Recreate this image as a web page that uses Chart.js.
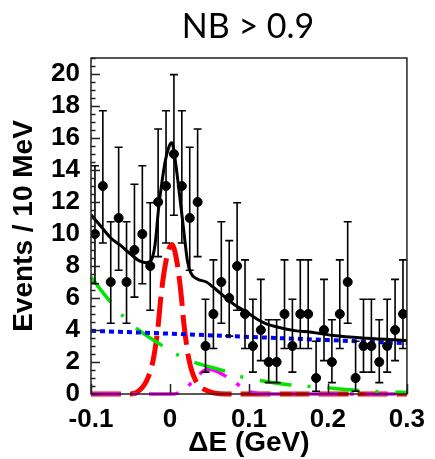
<!DOCTYPE html>
<html>
<head>
<meta charset="utf-8">
<script src="https://cdn.jsdelivr.net/npm/chart.js@4.4.0/dist/chart.umd.min.js"></script>
<style>
  html, body { margin: 0; padding: 0; background: #fff; }
  #wrap { width: 435px; height: 459px; }
</style>
</head>
<body>
<div id="wrap"><canvas id="deChart" width="435" height="459"></canvas></div>
<script>
// bin centres (10 MeV bins) and event counts
const binCenters = [-0.095, -0.085, -0.075, -0.065, -0.055, -0.045, -0.035, -0.025, -0.015, -0.005,
                    0.005, 0.015, 0.025, 0.035, 0.045, 0.055, 0.065, 0.075, 0.085, 0.095,
                    0.105, 0.115, 0.125, 0.135, 0.145, 0.155, 0.165, 0.175, 0.185, 0.195,
                    0.205, 0.215, 0.225, 0.235, 0.245, 0.255, 0.265, 0.275, 0.285, 0.295];
const counts = [10, 13, 7, 11, 7, 9, 10, 8, 12, 13,
                15, 13, 11, 12, 3, 5, 7, 6, 8, 5,
                3, 4, 2, 2, 5, 3, 5, 5, 1, 4,
                2, 5, 7, 1, 3, 3, 2, 3, 4, 5];

// poisson 68% intervals, indexed by count
const poissonLow  = [0, 0.173, 0.708, 1.367, 2.086, 2.840, 3.620, 4.419, 5.232, 6.057, 6.891, 7.734, 8.585, 9.441, 10.30, 11.17];
const poissonHigh = [1.841, 3.300, 4.638, 5.918, 7.163, 8.382, 9.584, 10.77, 11.95, 13.11, 14.27, 15.42, 16.56, 17.70, 18.83, 19.96];

// fit components
const totalX = [-0.1, -0.087, -0.075, -0.063, -0.05, -0.038, -0.03, -0.024, -0.019, -0.014, -0.01, -0.0058, 0.0, 0.0025, 0.0058, 0.012, 0.017, 0.022, 0.026, 0.034, 0.046, 0.059, 0.072, 0.084, 0.096, 0.108, 0.121, 0.137, 0.158, 0.179, 0.207, 0.249, 0.3];
const totalY = [11.2, 10.45, 9.75, 9.3, 8.75, 8.3, 8.2, 8.35, 9.3, 11.8, 13.3, 14.6, 15.6, 15.7, 14.9, 12.5, 10.4, 8.35, 7.6, 7.2, 7.0, 6.5, 5.95, 5.5, 5.15, 4.75, 4.4, 4.17, 3.96, 3.86, 3.65, 3.48, 3.34];

const signalX = [-0.1, -0.05, -0.042, -0.0296, -0.0214, -0.0152, -0.0111, -0.0049, 0.0025, 0.0099, 0.014, 0.0181, 0.0243, 0.0325, 0.0469, 0.07, 0.3];
const signalY = [0, 0, 0.1, 0.83, 2.09, 4.17, 6.26, 8.35, 9.35, 7.93, 6.26, 4.17, 2.09, 0.83, 0.2, 0, 0];

const peakingX = [-0.1, 0.005, 0.022, 0.0325, 0.0428, 0.049, 0.0552, 0.0675, 0.0799, 0.0922, 0.1046, 0.121, 0.3];
const peakingY = [0, 0, 0.45, 1.0, 1.45, 1.55, 1.5, 1.2, 0.8, 0.4, 0.1, 0, 0];

const bbX = [-0.1, -0.0745, -0.059, -0.0428, -0.0086, 0.0099, 0.0305, 0.0675, 0.0889, 0.1107, 0.1498, 0.193, 0.232, 0.275, 0.3];
const bbY = [7.3, 5.7, 4.84, 4.11, 2.98, 2.44, 1.98, 1.46, 1.1, 0.87, 0.58, 0.41, 0.25, 0.12, 0.1];

const contX = [-0.1, 0.0, 0.1, 0.2, 0.3];
const contY = [3.95, 3.77, 3.57, 3.37, 3.17];

const xTicks = [-0.1, 0, 0.1, 0.2, 0.3];

function toXY(xs, ys) {
    return xs.map((x, i) => ({ x: x, y: ys[i] }));
}

const axisFont = { family: "'Liberation Sans', Arial, sans-serif", size: 26, weight: 'bold' };
const titleFont = { family: "'Liberation Sans', Arial, sans-serif", size: 28, weight: 'bold', lineHeight: 1.1 };

// error bars, frame and inner ticks (ROOT style)
const rootStyle = {
    id: 'rootStyle',
    afterDatasetsDraw(chart) {
        const ctx = chart.ctx;
        const xs = chart.scales.x, ys = chart.scales.y;
        ctx.save();
        ctx.strokeStyle = '#000';
        ctx.lineWidth = 1.6;
        binCenters.forEach((c, i) => {
            const n = counts[i];
            const px = xs.getPixelForValue(c);
            const top = ys.getPixelForValue(poissonHigh[n]);
            const bot = ys.getPixelForValue(poissonLow[n]);
            ctx.beginPath();
            ctx.moveTo(px, top); ctx.lineTo(px, bot);
            ctx.moveTo(px - 4, top); ctx.lineTo(px + 4, top);
            ctx.moveTo(px - 4, bot); ctx.lineTo(px + 4, bot);
            ctx.stroke();
        });
        ctx.restore();
    },
    afterDraw(chart) {
        const ctx = chart.ctx;
        const a = chart.chartArea;
        const xs = chart.scales.x, ys = chart.scales.y;
        ctx.save();
        ctx.strokeStyle = '#222';
        ctx.lineWidth = 1.5;
        ctx.strokeRect(a.left, a.top, a.right - a.left, a.bottom - a.top);
        ctx.beginPath();
        for (let v = 0; v <= ys.max + 1e-9; v += 0.5) {
            const py = Math.round(ys.getPixelForValue(v)) + 0.5;
            const len = (Math.abs(v % 2) < 1e-9) ? 9 : 4.5;
            ctx.moveTo(a.left, py); ctx.lineTo(a.left + len, py);
        }
        xTicks.forEach(t => {
            const px = Math.round(xs.getPixelForValue(t)) + 0.5;
            ctx.moveTo(px, a.bottom); ctx.lineTo(px, a.bottom - 10);
        });
        ctx.stroke();

        ctx.fillStyle = '#000';
        ctx.font = "34px Lato, 'Open Sans', sans-serif";
        ctx.textAlign = 'center';
        ctx.textBaseline = 'alphabetic';
        ctx.fillText('NB > 0.9', 248, 38);
        ctx.restore();
    }
};

new Chart(document.getElementById('deChart').getContext('2d'), {
    type: 'line',
    data: {
        datasets: [
            {
                type: 'scatter',
                data: toXY(binCenters, counts),
                backgroundColor: '#000',
                borderColor: '#000',
                pointRadius: 4.5,
                showLine: false,
                order: 0
            },
            {
                data: toXY(totalX, totalY),
                borderColor: '#000',
                borderWidth: 3,
                pointRadius: 0,
                cubicInterpolationMode: 'monotone',
                order: 1
            },
            {
                data: toXY(contX, contY),
                borderColor: '#0000ff',
                borderWidth: 4,
                borderDash: [5, 4],
                pointRadius: 0,
                order: 2
            },
            {
                data: toXY(bbX, bbY),
                borderColor: '#00e600',
                borderWidth: 3.5,
                borderDash: [32, 16, 3, 17],
                pointRadius: 0,
                cubicInterpolationMode: 'monotone',
                clip: 8,
                order: 3
            },
            {
                data: toXY(peakingX, peakingY),
                borderColor: '#ff00ff',
                borderWidth: 3.5,
                borderDash: [30, 12, 4, 12],
                pointRadius: 0,
                cubicInterpolationMode: 'monotone',
                clip: 8,
                order: 4
            },
            {
                data: toXY(signalX, signalY),
                borderColor: '#ff0000',
                borderWidth: 5,
                borderDash: [30, 9],
                pointRadius: 0,
                cubicInterpolationMode: 'monotone',
                clip: 8,
                order: 5
            }
        ]
    },
    options: {
        responsive: false,
        animation: false,
        devicePixelRatio: 1,
        layout: { padding: { left: 0, right: 19, top: 58, bottom: 0 } },
        plugins: {
            legend: { display: false },
            tooltip: { enabled: false }
        },
        scales: {
            x: {
                type: 'linear',
                min: -0.1,
                max: 0.3,
                afterFit: s => { s.height = 65; },
                grid: { display: false, drawTicks: false },
                border: { display: false },
                ticks: {
                    stepSize: 0.1,
                    padding: 10,
                    autoSkip: false,
                    color: '#000',
                    font: axisFont,
                    maxRotation: 0,
                    callback: v => Math.abs(v) < 1e-9 ? '0' : v.toFixed(1)
                },
                title: {
                    display: true,
                    text: 'ΔE (GeV)',
                    color: '#000',
                    font: titleFont,
                    padding: { top: 0, bottom: 0 }
                }
            },
            y: {
                min: 0,
                max: 21,
                afterFit: s => { s.width = 91; },
                grid: { display: false, drawTicks: false },
                border: { display: false },
                ticks: {
                    stepSize: 2,
                    includeBounds: false,
                    autoSkip: false,
                    padding: 11,
                    color: '#000',
                    font: axisFont
                },
                title: {
                    display: true,
                    text: 'Events / 10 MeV',
                    color: '#000',
                    font: titleFont,
                    padding: { top: 9, bottom: 0 }
                }
            }
        }
    },
    plugins: [rootStyle]
});
</script>
</body>
</html>
